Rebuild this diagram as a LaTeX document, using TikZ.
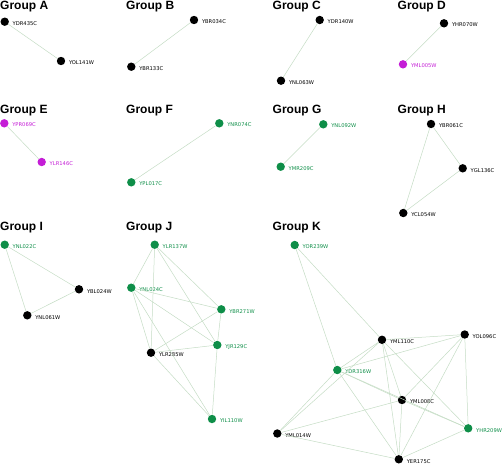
\documentclass[tikz,border=0pt]{standalone}
\usepackage{fontspec}
\setmainfont{DejaVu Sans}
\newfontfamily\titlefont{Liberation Sans}
\definecolor{gn}{RGB}{14,142,72}
\definecolor{mg}{RGB}{196,30,214}
\definecolor{edgec}{RGB}{196,220,196}
\tikzset{
  gtitle/.style={anchor=base west,inner sep=0pt,font=\titlefont\bfseries\fontsize{12}{12}\selectfont},
  dot/.style={circle,inner sep=0pt,minimum size=8.4pt},
  bk/.style={dot,fill=black},
  gr/.style={dot,fill=gn},
  mgn/.style={dot,fill=mg},
  lbl/.style={anchor=west,inner sep=0pt,font=\fontsize{5.2}{6}\selectfont},
  lk/.style={lbl,text=black},
  lg/.style={lbl,text=gn},
  lm/.style={lbl,text=mg},
  link/.style={draw=edgec,line width=0.5pt}
}
\begin{document}
\begin{tikzpicture}[x=1pt,y=-1pt]
\useasboundingbox (0,0) rectangle (502,464);
% titles
\node[gtitle] (tA) at (0,9.5) {Group A};
\node[gtitle] (tB) at (126,9.5) {Group B};
\node[gtitle] (tC) at (272.5,9.5) {Group C};
\node[gtitle] (tD) at (397.5,9.5) {Group D};
\node[gtitle] (tE) at (0,113.3) {Group E};
\node[gtitle] (tF) at (126,113.3) {Group F};
\node[gtitle] (tG) at (272.5,113.3) {Group G};
\node[gtitle] (tH) at (397.5,113.3) {Group H};
\node[gtitle] (tI) at (0,230.5) {Group I};
\node[gtitle] (tJ) at (126,230.5) {Group J};
\node[gtitle] (tK) at (272.5,230.5) {Group K};
% Group A
\node[bk] (YDR435C) at (4.7,21.7) {};
\node[bk] (YOL141W) at (61,61) {};
% Group B
\node[bk] (YBR034C) at (194,20) {};
\node[bk] (YBR133C) at (131.3,66.7) {};
% Group C
\node[bk] (YDR140W) at (319.7,20) {};
\node[bk] (YNL063W) at (281,80.7) {};
% Group D
\node[bk] (YHR070W) at (444,23.3) {};
\node[mgn] (YML005W) at (403,64.3) {};
% Group E
\node[mgn] (YPR069C) at (4.3,123.3) {};
\node[mgn] (YLR146C) at (41.7,162) {};
% Group F
\node[gr] (YNR074C) at (219.3,123.3) {};
\node[gr] (YPL017C) at (131.3,182.3) {};
% Group G
\node[gr] (YNL092W) at (323.3,124.3) {};
\node[gr] (YMR209C) at (280.7,166.7) {};
% Group H
\node[bk] (YBR061C) at (431,124) {};
\node[bk] (YGL136C) at (462.7,168.3) {};
\node[bk] (YCL054W) at (403.3,213) {};
% Group I
\node[gr] (YNL022C) at (4.7,244.7) {};
\node[bk] (YBL024W) at (79,289.3) {};
\node[bk] (YNL061W) at (27.3,315.3) {};
% Group J
\node[gr] (YLR137W) at (154.7,244.7) {};
\node[gr] (YNL024C) at (131.3,287.7) {};
\node[gr] (YBR271W) at (221.3,309.3) {};
\node[gr] (YJR129C) at (217.3,345) {};
\node[bk] (YLR285W) at (151,352.7) {};
\node[gr] (YIL110W) at (212,419) {};
% Group K
\node[gr] (YOR239W) at (294.7,245) {};
\node[bk] (YML110C) at (382,339.8) {};
\node[bk] (YOL096C) at (464.7,334.5) {};
\node[gr] (YDR316W) at (337.3,370) {};
\node[bk] (YML008C) at (402,400) {};
\node[gr] (YHR209W) at (468.2,428.3) {};
\node[bk] (YML014W) at (277.3,433.5) {};
\node[bk] (YER175C) at (398.8,459.3) {};
% labels
\foreach \n/\s in {YDR435C/lk,YOL141W/lk,YBR034C/lk,YBR133C/lk,YDR140W/lk,YNL063W/lk,YHR070W/lk,YML005W/lm,YPR069C/lm,YLR146C/lm,YNR074C/lg,YPL017C/lg,YNL092W/lg,YMR209C/lg,YBR061C/lk,YGL136C/lk,YCL054W/lk,YNL022C/lg,YBL024W/lk,YNL061W/lk,YLR137W/lg,YNL024C/lg,YBR271W/lg,YJR129C/lg,YLR285W/lk,YIL110W/lg,YOR239W/lg,YML110C/lk,YOL096C/lk,YDR316W/lg,YML008C/lk,YHR209W/lg,YML014W/lk,YER175C/lk}
  \node[\s] (l\n) at ([xshift=7.8pt,yshift=-1.8pt]\n.center) {\n};
% edges
\foreach \a/\b in {YDR435C/YOL141W,YBR034C/YBR133C,YDR140W/YNL063W,YHR070W/YML005W,YPR069C/YLR146C,YNR074C/YPL017C,YNL092W/YMR209C,
  YBR061C/YGL136C,YBR061C/YCL054W,YGL136C/YCL054W,
  YNL022C/YBL024W,YNL022C/YNL061W,YBL024W/YNL061W,
  YLR137W/YNL024C,YLR137W/YLR285W,YLR137W/YBR271W,YLR137W/YJR129C,YNL024C/YBR271W,YNL024C/YJR129C,YNL024C/YLR285W,YNL024C/YIL110W,YBR271W/YJR129C,YBR271W/YLR285W,YJR129C/YLR285W,YJR129C/YIL110W,YLR285W/YIL110W,
  YOR239W/YDR316W,YOR239W/YML110C,YML110C/YOL096C,YML110C/YDR316W,YML110C/YML014W,YML110C/YML008C,YML110C/YER175C,YML110C/YHR209W,
  YOL096C/YDR316W,YOL096C/YML008C,YOL096C/YHR209W,YOL096C/YER175C,
  YDR316W/YML008C,YDR316W/YHR209W,YDR316W/YML014W,YDR316W/YER175C,
  YML008C/YHR209W,YML008C/YML014W,YML008C/YER175C,YML014W/YER175C,YER175C/YHR209W}
  \draw[link] (\a) -- (\b);
\end{tikzpicture}
\end{document}
